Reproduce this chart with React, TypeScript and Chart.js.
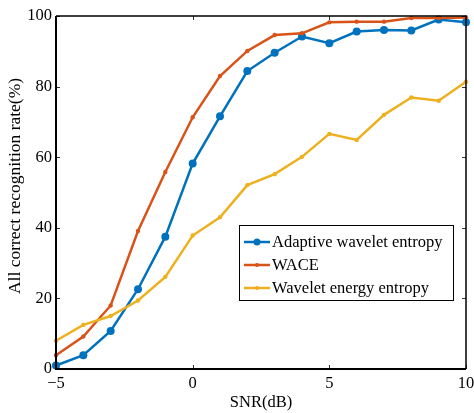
import React, { useEffect, useRef } from "react";
import { Chart, registerables } from "chart.js";

Chart.register(...registerables);

const snr = [-5, -4, -3, -2, -1, 0, 1, 2, 3, 4, 5, 6, 7, 8, 9, 10];
const adaptive = [1.0, 3.9, 10.8, 22.6, 37.5, 58.2, 71.6, 84.4, 89.6, 94.2, 92.3, 95.6, 96.0, 95.9, 99.0, 98.2];
const wace = [3.9, 9.2, 18.0, 39.1, 55.8, 71.3, 83.0, 90.1, 94.6, 95.1, 98.2, 98.4, 98.4, 99.4, 99.4, 99.6];
const energy = [8.0, 12.5, 15.0, 19.4, 26.1, 37.8, 43.0, 52.1, 55.2, 60.1, 66.6, 64.9, 72.0, 76.9, 76.0, 81.4];
const seriesNames = ["Adaptive wavelet entropy", "WACE", "Wavelet energy entropy"];
const xTicks = [-5, 0, 5, 10];
const yTicks = [0, 20, 40, 60, 80, 100];
const yTitle = "All correct recognition rate(%)";

const colors = ["#0072BD", "#D95319", "#EDB120"];
const markerSizes = [4, 2.2, 2.2];
const FONT = "'Liberation Serif', 'Times New Roman', serif";

const boxPlugin = {
  id: "boxPlugin",
  afterDatasetsDraw(chart: any) {
    const { ctx, chartArea: a, scales } = chart;
    const xs = scales.x;
    const ys = scales.y;
    ctx.save();
    ctx.lineWidth = 1;
    ctx.strokeStyle = "#333";
    const tl = 4;
    xTicks.forEach((v) => {
      const px = Math.round(xs.getPixelForValue(v)) + 0.5;
      ctx.beginPath();
      ctx.moveTo(px, a.bottom);
      ctx.lineTo(px, a.bottom - tl);
      ctx.moveTo(px, a.top);
      ctx.lineTo(px, a.top + tl);
      ctx.stroke();
    });
    yTicks.forEach((v) => {
      const py = Math.round(ys.getPixelForValue(v)) + 0.5;
      ctx.beginPath();
      ctx.moveTo(a.left, py);
      ctx.lineTo(a.left + tl, py);
      ctx.moveTo(a.right, py);
      ctx.lineTo(a.right - tl, py);
      ctx.stroke();
    });
    ctx.strokeStyle = "#000";
    ctx.lineWidth = 1.5;
    ctx.beginPath();
    ctx.moveTo(a.left, a.top);
    ctx.lineTo(a.right, a.top);
    ctx.lineTo(a.right, a.bottom);
    ctx.stroke();
    ctx.lineWidth = 2;
    ctx.beginPath();
    ctx.moveTo(a.left, a.top);
    ctx.lineTo(a.left, a.bottom);
    ctx.lineTo(a.right, a.bottom);
    ctx.stroke();

    // y title
    ctx.save();
    ctx.translate(15, 186);
    ctx.rotate(-Math.PI / 2);
    ctx.font = `17.5px ${FONT}`;
    ctx.fillStyle = "#000";
    ctx.textAlign = "center";
    ctx.textBaseline = "middle";
    ctx.fillText(yTitle, 0, 0);
    ctx.restore();

    // legend
    const lx = 239, ly = 225, lw = 214, lh = 75;
    ctx.fillStyle = "#fff";
    ctx.fillRect(lx, ly, lw, lh);
    ctx.lineWidth = 1;
    ctx.strokeStyle = "#000";
    ctx.strokeRect(lx + 0.5, ly + 0.5, lw, lh);
    ctx.font = `16.5px ${FONT}`;
    ctx.textBaseline = "middle";
    ctx.textAlign = "left";
    const rows = [242, 265, 288];
    chart.data.datasets.forEach((ds: any, i: number) => {
      const y = rows[i];
      ctx.strokeStyle = ds.borderColor;
      ctx.lineWidth = 2.5;
      ctx.beginPath();
      ctx.moveTo(244, y);
      ctx.lineTo(270, y);
      ctx.stroke();
      ctx.fillStyle = ds.borderColor;
      ctx.beginPath();
      ctx.arc(257, y, i === 0 ? 3.5 : 2, 0, Math.PI * 2);
      ctx.fill();
      ctx.fillStyle = "#000";
      ctx.fillText(ds.label, 272, y + 1);
    });
    ctx.restore();
  },
};

export default function App() {
  const ref = useRef<HTMLCanvasElement>(null);
  useEffect(() => {
    if (!ref.current) return;
    const series = [adaptive, wace, energy];
    const chart = new Chart(ref.current, {
      type: "line",
      data: {
        datasets: series.map((data, i) => ({
          label: seriesNames[i],
          data: snr.map((x, k) => ({ x, y: data[k] })),
          borderColor: colors[i],
          backgroundColor: colors[i],
          borderWidth: 2.5,
          pointRadius: markerSizes[i],
          pointBorderWidth: 0,
          pointBackgroundColor: colors[i],
          tension: 0,
          clip: 6,
          order: 3 - i,
        })),
      },
      options: {
        animation: false,
        responsive: false,
        maintainAspectRatio: false,
        layout: { padding: { top: 16, right: 8, left: 0, bottom: 0 } },
        plugins: { legend: { display: false }, tooltip: { enabled: false } },
        scales: {
          x: {
            type: "linear",
            min: -5,
            max: 10,
            afterBuildTicks: (s: any) => {
              s.ticks = xTicks.map((v) => ({ value: v }));
            },
            afterFit: (s: any) => {
              s.height = 44;
              s.paddingRight = 0;
              s.paddingLeft = 0;
            },
            grid: { display: false, drawTicks: false },
            border: { display: false },
            ticks: {
              color: "#000",
              font: { family: FONT, size: 16.5 },
              padding: 5,
              maxRotation: 0,
              callback: (v: any) => (Number(v) < 0 ? "\u2212" + Math.abs(Number(v)) : String(v)),
            },
            title: {
              display: true,
              text: "SNR(dB)",
              color: "#000",
              font: { family: FONT, size: 16.5 },
              padding: { top: 0, bottom: 0 },
            },
          },
          y: {
            type: "linear",
            min: 0,
            max: 100,
            afterBuildTicks: (s: any) => {
              s.ticks = yTicks.map((v) => ({ value: v }));
            },
            afterFit: (s: any) => {
              s.width = 56;
              s.paddingTop = 0;
              s.paddingBottom = 0;
            },
            grid: { display: false, drawTicks: false },
            border: { display: false },
            ticks: {
              color: "#000",
              font: { family: FONT, size: 16.5 },
              padding: 4,
            },
          },
        },
      },
      plugins: [boxPlugin],
    } as any);
    return () => chart.destroy();
  }, []);
  return (
    <div style={{ position: "absolute", left: 0, top: 0, width: 474, height: 413 }}>
      <canvas ref={ref} width={474} height={413} style={{ width: 474, height: 413 }} />
    </div>
  );
}
